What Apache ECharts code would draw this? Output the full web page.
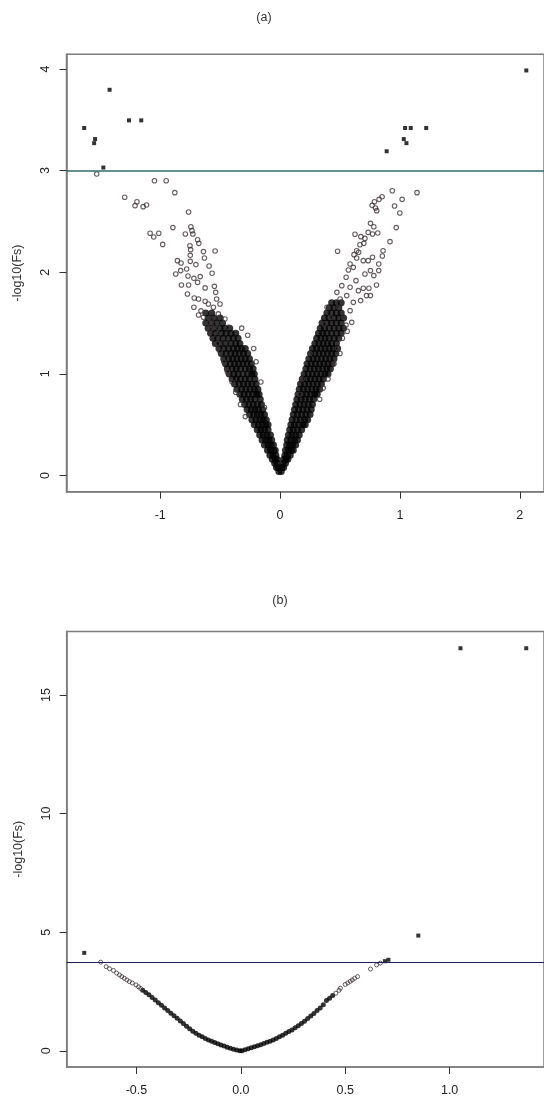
<!DOCTYPE html>
<html>
<head>
<meta charset="utf-8">
<script src="https://cdn.jsdelivr.net/npm/echarts@6/dist/echarts.min.js"></script>
<style>html,body{margin:0;padding:0;background:#fff}#c{width:544px;height:1098px}</style>
</head>
<body>
<div id="c"></div>
<script>
// ---------- Panel (a) ----------
var titleA = '(a)';
var titleB = '(b)';
var yName = '-log10(Fs)';
var xTicksA = [-1, 0, 1, 2];
var yTicksA = [0, 1, 2, 3, 4];
var xTicksB = [-0.5, 0, 0.5, 1.0];
var yTicksB = [0, 5, 10, 15];
var thresholdA = 3;
var thresholdB = 3.74;

// significant genes (filled squares)
var sigA = [[-1.634,3.419],[-1.551,3.27],[-1.543,3.31],[-1.474,3.03],[-1.422,3.795],[-1.26,3.494],[-1.158,3.494],
  [0.889,3.19],[1.032,3.31],[1.054,3.27],[1.043,3.419],[1.09,3.419],[1.219,3.419],[2.054,3.985]];

// scattered non-significant genes (open circles)
var openA = [[-1.529,2.966],[-1.048,2.90],[-0.95,2.90],[-0.878,2.783],[-1.296,2.737],[-1.194,2.694],[-1.21,2.655],[-1.142,2.645],[-1.114,2.662],
  [-0.763,2.593],[-0.894,2.439],[-1.084,2.383],[-1.054,2.347],[-1.012,2.383],[-0.979,2.274],[-0.744,2.448],[-0.735,2.409],[-0.727,2.376],[-0.79,2.376],
  [-0.688,2.32],[-0.678,2.284],[-0.752,2.261],[-0.746,2.222],[-0.542,2.209],[-0.639,2.203],[-0.631,2.14],[-0.749,2.166],[-0.856,2.114],[-0.826,2.091],
  [-0.749,2.107],[-0.702,2.075],[-0.592,2.062],[-0.87,1.983],[-0.829,2.016],[-0.779,2.032],[-0.567,1.99],[-0.768,1.963],[-0.719,1.94],[-0.666,1.957],
  [-0.823,1.875],[-0.763,1.875],[-0.688,1.90],[-0.625,1.846],[-0.548,1.861],[-0.537,1.802],[-0.773,1.786],[-0.716,1.747],[-0.68,1.737],[-0.625,1.714],
  [-0.529,1.737],[-0.719,1.655],[-0.598,1.688],[-0.556,1.655],[-0.501,1.688],[-0.639,1.557],[-0.57,1.54],[-0.515,1.59],[-0.46,1.54],[-0.542,1.491],[-0.433,1.458],
  [-0.66,1.62],[-0.68,1.58],[-0.6,1.5],[-0.58,1.44],[-0.56,1.38],[-0.52,1.3],[-0.5,1.22],[-0.47,1.12],[-0.44,1.02],[-0.4,0.92],[-0.37,0.82],[-0.33,0.7],[-0.29,0.58],
  [-0.2,1.12],[-0.22,1.25],[-0.27,1.38],[-0.32,1.45],[-0.13,0.67],[-0.16,0.92],
  [0.936,2.802],[1.142,2.783],[1.018,2.717],[0.851,2.743],[0.826,2.717],[0.787,2.694],[0.768,2.658],[0.796,2.632],[0.806,2.606],[0.955,2.652],[0.999,2.583],
  [0.754,2.481],[0.782,2.448],[0.969,2.439],[0.735,2.392],[0.771,2.376],[0.815,2.386],[0.625,2.373],[0.674,2.35],[0.708,2.333],[0.917,2.301],[0.666,2.271],
  [0.699,2.284],[0.48,2.206],[0.639,2.212],[0.655,2.196],[0.859,2.212],[0.853,2.16],[0.617,2.173],[0.639,2.14],[0.771,2.147],[0.735,2.114],[0.694,2.114],
  [0.584,2.081],[0.823,2.081],[0.611,2.048],[0.57,2.022],[0.754,2.016],[0.823,2.016],[0.708,1.983],[0.782,1.967],[0.551,1.95],[0.633,1.917],[0.804,1.875],
  [0.741,1.842],[0.694,1.842],[0.515,1.868],[0.584,1.852],[0.653,1.819],[0.721,1.77],[0.754,1.77],[0.474,1.802],[0.556,1.77],[0.672,1.721],[0.501,1.737],
  [0.611,1.704],[0.392,1.655],[0.488,1.655],[0.584,1.622],[0.419,1.557],[0.529,1.557],[0.598,1.507],[0.369,1.491],
  [0.185,0.95],[0.16,0.8],[0.48,1.25],[0.52,1.35],[0.5,1.2],[0.45,1.1],[0.56,1.42],[0.4,0.95],[0.33,0.75],[0.55,1.48],[0.36,0.86],[0.25,1.2]];

// dense core rows: [y, x1, x2, ...]
var coreRowsA = [
  [0.04,-0.01],[0.08,-0.03,-0.015],[0.12,-0.045,-0.025],[0.16,-0.065,-0.04,-0.025],[0.20,-0.085,-0.06,-0.035],
  [0.25,-0.105,-0.08,-0.055,-0.04],[0.30,-0.13,-0.1,-0.075,-0.055],[0.35,-0.15,-0.12,-0.095,-0.07],[0.40,-0.17,-0.14,-0.11,-0.08],
  [0.45,-0.19,-0.16,-0.13,-0.1],[0.50,-0.215,-0.18,-0.15,-0.12,-0.1],[0.55,-0.235,-0.2,-0.17,-0.14,-0.115],[0.60,-0.255,-0.22,-0.19,-0.16,-0.13],
  [0.65,-0.275,-0.24,-0.21,-0.18,-0.145],[0.70,-0.295,-0.26,-0.225,-0.19,-0.155],[0.75,-0.315,-0.28,-0.245,-0.21,-0.165],
  [0.80,-0.335,-0.3,-0.265,-0.23,-0.195,-0.175],[0.85,-0.36,-0.32,-0.285,-0.25,-0.215,-0.185],[0.90,-0.38,-0.34,-0.305,-0.27,-0.235,-0.2],
  [0.95,-0.4,-0.365,-0.33,-0.29,-0.255,-0.21],[1.00,-0.425,-0.385,-0.35,-0.31,-0.27,-0.235,-0.215],[1.05,-0.44,-0.4,-0.365,-0.33,-0.29,-0.255,-0.225],
  [1.10,-0.455,-0.415,-0.38,-0.345,-0.31,-0.275,-0.24],[1.15,-0.47,-0.43,-0.395,-0.36,-0.325,-0.29,-0.255],[1.20,-0.49,-0.45,-0.41,-0.375,-0.34,-0.305,-0.27],
  [1.25,-0.51,-0.47,-0.43,-0.39,-0.355,-0.32,-0.29],[1.30,-0.54,-0.5,-0.455,-0.41,-0.37,-0.335],[1.35,-0.56,-0.52,-0.475,-0.43,-0.39,-0.35],
  [1.40,-0.58,-0.54,-0.49,-0.45,-0.41,-0.37],[1.45,-0.6,-0.55,-0.5,-0.46,-0.42],[1.50,-0.62,-0.57,-0.53,-0.48],[1.55,-0.6,-0.55,-0.5],[1.60,-0.62,-0.57],
  [0.04,0.01],[0.08,0.015,0.03],[0.12,0.025,0.045],[0.16,0.03,0.05,0.065],[0.20,0.04,0.06,0.085],[0.25,0.045,0.07,0.095,0.11],
  [0.30,0.055,0.08,0.105,0.13],[0.35,0.06,0.09,0.12,0.145],[0.40,0.07,0.1,0.13,0.16],[0.45,0.08,0.11,0.145,0.18],[0.50,0.09,0.12,0.155,0.19,0.21],
  [0.55,0.1,0.135,0.17,0.205,0.23],[0.60,0.11,0.145,0.18,0.215,0.25],[0.65,0.12,0.155,0.19,0.225,0.26],[0.70,0.13,0.165,0.2,0.235,0.27],
  [0.75,0.14,0.175,0.21,0.245,0.28],[0.80,0.15,0.185,0.22,0.255,0.29,0.31],[0.85,0.16,0.195,0.23,0.265,0.3,0.33],[0.90,0.17,0.205,0.24,0.275,0.31,0.345],
  [0.95,0.185,0.22,0.255,0.29,0.325,0.36],[1.00,0.2,0.235,0.27,0.305,0.34,0.375,0.4],[1.05,0.215,0.25,0.285,0.32,0.355,0.39,0.42],
  [1.10,0.225,0.26,0.295,0.33,0.365,0.4,0.435],[1.15,0.24,0.275,0.31,0.345,0.38,0.415,0.45],[1.20,0.255,0.29,0.325,0.36,0.395,0.43,0.465],
  [1.25,0.27,0.305,0.34,0.375,0.41,0.445,0.48],[1.30,0.29,0.325,0.36,0.395,0.43,0.47],[1.35,0.305,0.34,0.375,0.41,0.45,0.49],
  [1.40,0.32,0.355,0.39,0.43,0.47,0.51],[1.45,0.335,0.37,0.41,0.45,0.49,0.53],[1.50,0.35,0.39,0.43,0.47,0.51],[1.55,0.37,0.41,0.45,0.49,0.53],
  [1.60,0.39,0.43,0.47,0.51],[1.65,0.41,0.45,0.49],[1.70,0.43,0.47,0.51]
];

// ---------- Panel (b) ----------
var sigB = [[-0.750,4.13],[0.850,4.86],[0.707,3.84],[0.69,3.78],[1.052,16.97],[1.367,16.97]];
var openB = [[-0.671,3.74],[-0.645,3.55],[-0.629,3.46],[-0.61,3.39],[-0.595,3.28],[-0.581,3.2],[-0.57,3.13],[-0.558,3.06],[-0.546,2.99],
  [-0.534,2.92],[-0.52,2.86],[-0.502,2.78],[-0.49,2.7],[-0.48,2.63],
  [0.455,2.43],[0.47,2.55],[0.477,2.64],[0.5,2.8],[0.512,2.86],[0.524,2.93],[0.534,2.99],[0.545,3.06],[0.559,3.13],[0.621,3.45],[0.65,3.62],[0.668,3.7]];
var coreB = [[-0.47,2.56],[-0.455,2.46],[-0.44,2.36],[-0.425,2.25],[-0.41,2.14],[-0.395,2.03],[-0.38,1.92],[-0.365,1.81],[-0.35,1.70],
  [-0.335,1.59],[-0.32,1.48],[-0.305,1.37],[-0.29,1.26],[-0.275,1.15],[-0.26,1.04],[-0.245,0.93],[-0.23,0.83],[-0.215,0.74],[-0.2,0.66],
  [-0.185,0.59],[-0.17,0.52],[-0.155,0.46],[-0.14,0.41],[-0.125,0.35],[-0.11,0.30],[-0.095,0.25],[-0.08,0.2],[-0.065,0.15],[-0.05,0.11],
  [-0.035,0.07],[-0.02,0.04],[-0.005,0.01],
  [0.005,0.01],[0.02,0.05],[0.035,0.09],[0.05,0.13],[0.065,0.17],[0.08,0.22],[0.095,0.26],[0.11,0.31],[0.125,0.36],[0.14,0.41],[0.155,0.46],
  [0.17,0.52],[0.185,0.59],[0.2,0.66],[0.215,0.74],[0.23,0.82],[0.245,0.88],[0.26,0.97],[0.275,1.06],[0.29,1.15],[0.305,1.25],[0.32,1.36],
  [0.335,1.47],[0.35,1.58],[0.365,1.70],[0.38,1.81],[0.395,1.94],[0.41,2.12],[0.425,2.22],[0.44,2.33]];

// ---------- build ----------
function rowsToPairs(rows){var out=[];rows.forEach(function(r){for(var i=1;i<r.length;i++)out.push([r[i],r[0]]);});return out;}
var coreA = rowsToPairs(coreRowsA);

var FONT = 'Liberation Sans';
var frame = '#7d7d7d';
function xAxis(idx, min, max, ticks, dec){
  return {type:'value', gridIndex:idx, min:min, max:max, splitLine:{show:false},
    axisLine:{show:true, onZero:false, lineStyle:{color:frame, width:1.5}},
    axisTick:{show:true, length:7, lineStyle:{color:'#333'}, customValues:ticks},
    axisLabel:{customValues:ticks, margin:17, color:'#222', fontFamily:FONT, fontSize:12.5,
      formatter:function(v){return dec? Number(v).toFixed(1) : String(v);}}};
}
function yAxis(idx, min, max, ticks){
  return {type:'value', gridIndex:idx, min:min, max:max, splitLine:{show:false},
    name:yName, nameLocation:'middle', nameRotate:90, nameGap:42,
    nameTextStyle:{color:'#333', fontFamily:FONT, fontSize:12.5},
    axisLine:{show:true, onZero:false, lineStyle:{color:frame, width:1.5}},
    axisTick:{show:true, length:7, lineStyle:{color:'#333'}, customValues:ticks},
    axisLabel:{customValues:ticks, rotate:90, margin:14, color:'#222', fontFamily:FONT, fontSize:12.5}};
}
function sc(name, xi, data, style){
  return Object.assign({type:'scatter', name:name, xAxisIndex:xi, yAxisIndex:xi, data:data, animation:false, silent:true}, style);
}
var openStyle = {symbol:'circle', symbolSize:4.5, itemStyle:{color:'rgba(255,255,255,0)', borderColor:'#3f3438', borderWidth:1.1}};
var coreStyle = {symbol:'circle', symbolSize:7, itemStyle:{color:'#000'}};
var coreStyleB = {symbol:'circle', symbolSize:5, itemStyle:{color:'#000'}};
var sigStyle = {symbol:'rect', symbolSize:4, itemStyle:{color:'#000'}};

var chart = echarts.init(document.getElementById('c'), null, {renderer:'canvas'});
chart.setOption({
  backgroundColor:'#fff',
  animation:false,
  graphic:[
    {type:'text', x:264, y:18, style:{text:titleA, fill:'#333', font:'12.5px "Liberation Sans"', textAlign:'center', textVerticalAlign:'middle'}},
    {type:'text', x:280, y:601, style:{text:titleB, fill:'#333', font:'12.5px "Liberation Sans"', textAlign:'center', textVerticalAlign:'middle'}}
  ],
  grid:[
    {left:66.5, top:54.3, right:-5.5, height:437.4, show:true, borderColor:frame, borderWidth:1.5, backgroundColor:'transparent'},
    {left:66.7, top:631.4, right:-5.5, height:435.6, show:true, borderColor:frame, borderWidth:1.5, backgroundColor:'transparent'}
  ],
  xAxis:[xAxis(0,-1.7815,2.2015,xTicksA,false), xAxis(1,-0.834,1.452,xTicksB,true)],
  yAxis:[yAxis(0,-0.159,4.144,yTicksA), yAxis(1,-0.68,17.68,yTicksB)],
  series:[
    sc('coreA',0,coreA,coreStyle),
    sc('openA',0,openA,openStyle),
    sc('sigA',0,sigA,Object.assign({markLine:{silent:true, symbol:'none', label:{show:false}, animation:false,
      lineStyle:{color:'#2e6a6a', width:1.5, type:'solid'}, data:[{yAxis:thresholdA}]}}, sigStyle)),
    sc('coreB',1,coreB,coreStyleB),
    sc('openB',1,openB,{symbol:'circle', symbolSize:4, itemStyle:{color:'rgba(255,255,255,0)', borderColor:'#3f3438', borderWidth:1}}),
    sc('sigB',1,sigB,Object.assign({markLine:{silent:true, symbol:'none', label:{show:false}, animation:false,
      lineStyle:{color:'#1e1e5a', width:1.2, type:'solid'}, data:[{yAxis:thresholdB}]}}, sigStyle))
  ]
});
</script>
</body>
</html>
